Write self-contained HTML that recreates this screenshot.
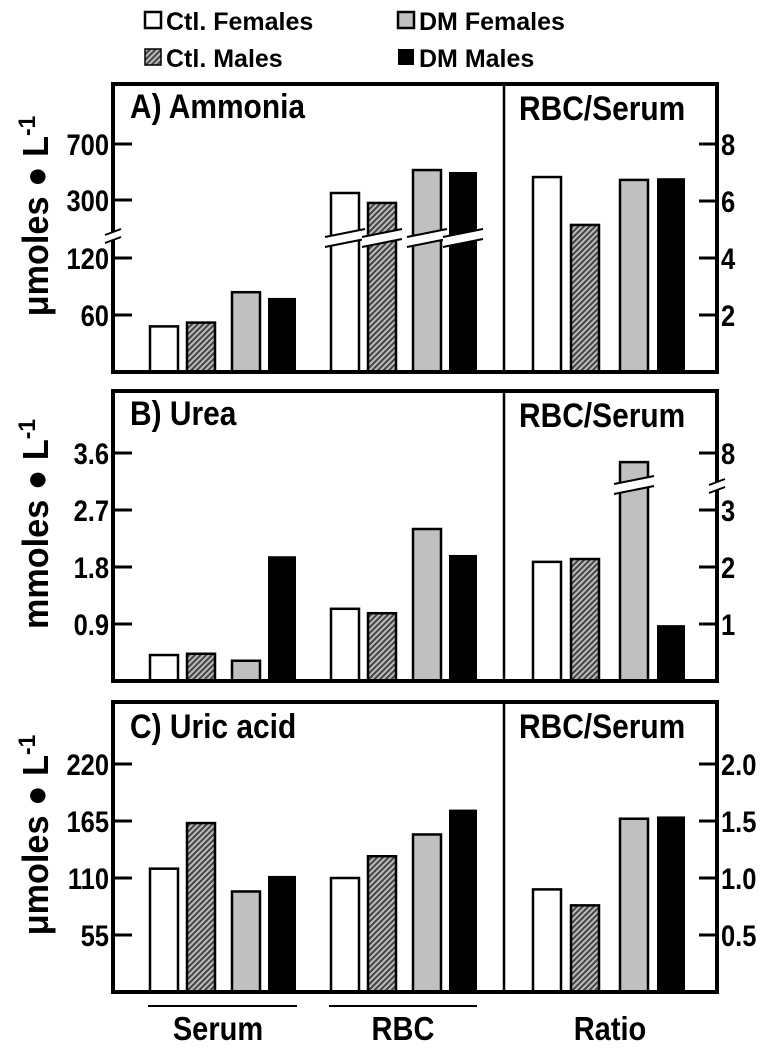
<!DOCTYPE html>
<html><head><meta charset="utf-8"><style>
body{margin:0;background:#fff;}
svg{display:block;font-family:"Liberation Sans",Arial,sans-serif;font-weight:bold;}
</style></head><body>
<svg id="chart" width="767" height="1049" viewBox="0 0 767 1049">
<defs>
<pattern id="hatch" patternUnits="userSpaceOnUse" width="4" height="4" patternTransform="rotate(45)">
<rect width="4" height="4" fill="#bbb"/><rect width="2" height="4" fill="#444"/>
</pattern>
</defs>
<g>
<rect x="145" y="12" width="16" height="16" fill="#fff" stroke="#000" stroke-width="2.5"/>
<text x="166" y="30" font-size="25">Ctl. Females</text>
<rect x="145" y="49" width="16" height="16" fill="url(#hatch)" stroke="#000" stroke-width="1.5"/>
<text x="166" y="67" font-size="25">Ctl. Males</text>
<rect x="398" y="12" width="16" height="16" fill="#c0c0c0" stroke="#000" stroke-width="2.5"/>
<text x="419" y="30" font-size="25">DM Females</text>
<rect x="398" y="49" width="16" height="16" fill="#000"/>
<text x="419" y="67" font-size="25">DM Males</text>
</g>
<g id="panels"></g>
<g>
<line x1="148" y1="1006" x2="297" y2="1006" stroke="#000" stroke-width="2"/>
<line x1="329" y1="1006" x2="477" y2="1006" stroke="#000" stroke-width="2"/>
<text transform="translate(218,1040) scale(0.88,1)" font-size="33" text-anchor="middle">Serum</text>
<text transform="translate(403,1040) scale(0.88,1)" font-size="33" text-anchor="middle">RBC</text>
<text transform="translate(610,1040) scale(0.88,1)" font-size="33" text-anchor="middle">Ratio</text>
</g>
</svg>
<script>
// Groups: ctl females, ctl males, dm females, dm males
const groups = ["Ctl. Females","Ctl. Males","DM Females","DM Males"];
// Panel A ammonia (umol/L)
const ammoniaSerum = [48, 52, 84, 78];
const ammoniaRBC = [350, 279, 514, 500];
const ammoniaRatio = [6.84, 5.16, 6.74, 6.8];
const ammoniaLeftTicks = [60, 120, 300, 700];
const ammoniaRightTicks = [2, 4, 6, 8];
// Panel B urea (mmol/L)
const ureaSerum = [0.41, 0.43, 0.32, 1.97];
const ureaRBC = [1.14, 1.07, 2.4, 1.99];
const ureaRatio = [2.09, 2.14, 7.2, 0.98];
const ureaLeftTicks = [0.9, 1.8, 2.7, 3.6];
const ureaRightTicks = [1, 2, 3, 8];
// Panel C uric acid (umol/L)
const uricSerum = [119, 163, 97, 112];
const uricRBC = [110, 131, 152, 176];
const uricRatio = [0.9, 0.76, 1.52, 1.54];
const uricLeftTicks = [55, 110, 165, 220];
const uricRightTicks = ["0.5","1.0","1.5","2.0"];

const NS="http://www.w3.org/2000/svg";
const root=document.getElementById('panels');
const fills=["#fff","url(#hatch)","#c0c0c0","#000"];
const offs=[0,37,82,118]; const bw=28;
const starts={serum:150, rbc:331, ratio:533};
const ratioOffs=[0,38,87,124];
function mk(tag,attrs,parent){const e=document.createElementNS(NS,tag);for(const k in attrs)e.setAttribute(k,attrs[k]);(parent||root).appendChild(e);return e;}

// axis functions
function linAxis(unit, bottom){return v=>bottom - v/unit*57;}
function ammoniaLeft(v){ if(v<=150) return 372 - v/60*57; return 200 - (v-300)/400*56; }
function ureaRight(v){ if(v<=3.5) return 681 - v*57; return 510 - (v-3)*11.4; }

function panel(cfg){
  const g=mk('g',{});
  
  
  const top=cfg.top,bot=cfg.bot;
  const series=[['serum',cfg.serum,cfg.leftY,starts.serum,offs],['rbc',cfg.rbc,cfg.leftY,starts.rbc,offs],['ratio',cfg.ratio,cfg.rightY,starts.ratio,ratioOffs]];
  series.forEach(([key,vals,fy,x0,of])=>{
    vals.forEach((v,i)=>{
      const y=fy(v);
      const r=mk('rect',{x:x0+of[i],y:y,width:bw,height:bot-y,fill:fills[i],stroke:'#000','stroke-width':i==3?0:2.5},g);
      
      
      if(cfg.breakFor && cfg.breakFor(key,i)){
        const by=cfg.breakY;
        const gap=mk('polygon',{points:`${x0+of[i]-6},${by+4} ${x0+of[i]+bw+6},${by-4} ${x0+of[i]+bw+6},${by+6} ${x0+of[i]-6},${by+14}`,fill:'#fff'},g);
        
        
        mk('line',{x1:x0+of[i]-6,y1:by+4,x2:x0+of[i]+bw+6,y2:by-4,stroke:'#000','stroke-width':2},g);
        mk('line',{x1:x0+of[i]-6,y1:by+14,x2:x0+of[i]+bw+6,y2:by+6,stroke:'#000','stroke-width':2},g);
      }
    });
  });
  const fr=mk('rect',{x:113,y:top,width:604,height:bot-top,fill:'none',stroke:'#000','stroke-width':4},g);
  
  
  mk('line',{x1:504,y1:top,x2:504,y2:bot,stroke:'#000','stroke-width':2.5},g);
  cfg.leftTicks.forEach(t=>{const y=cfg.leftY(t);
    mk('line',{x1:113,y1:y,x2:132,y2:y,stroke:'#000','stroke-width':3},g);
    const tx=mk('text',{transform:`translate(109,${y+11}) scale(0.85,1)`,'font-size':30,'text-anchor':'end'},g);tx.textContent=t;
    
    });
  cfg.rightTicks.forEach(t=>{const y=cfg.rightY(parseFloat(t));
    mk('line',{x1:699,y1:y,x2:717,y2:y,stroke:'#000','stroke-width':3},g);
    const tx=mk('text',{transform:`translate(721,${y+11}) scale(0.85,1)`,'font-size':30},g);tx.textContent=t;
    
    });
  const t1=mk('text',{transform:`translate(130,${top+cfg.titleDy}) scale(0.88,1)`,'font-size':34},g);t1.textContent=cfg.title;
  
  
  const t2=mk('text',{transform:`translate(519,${top+36}) scale(0.88,1)`,'font-size':34},g);t2.textContent='RBC/Serum';
  
  
  const yt=mk('text',{x:0,y:0,'font-size':36,'text-anchor':'middle',transform:`translate(48,${(top+bot)/2-12}) rotate(-90) scale(0.95,1)`},g);
  yt.innerHTML=cfg.ylabel+' \u25CF L<tspan dy="-13" font-size="24">-1</tspan>';
  
  
  if(cfg.axisBreak){const [side,by]=cfg.axisBreak;const x=side=='l'?113:717;
    mk('rect',{x:x-5,y:by-4,width:10,height:8,fill:'#fff'},g);
    mk('line',{x1:x-8,y1:by-1,x2:x+8,y2:by-7,stroke:'#000','stroke-width':2},g);
    mk('line',{x1:x-8,y1:by+7,x2:x+8,y2:by+1,stroke:'#000','stroke-width':2},g);}
}
panel({name:'panel-a-ammonia',short:'a',top:84,bot:372,serum:ammoniaSerum,rbc:ammoniaRBC,ratio:ammoniaRatio,titleDy:34,
  leftY:ammoniaLeft,rightY:linAxis(2,372),leftTicks:ammoniaLeftTicks,rightTicks:ammoniaRightTicks,
  title:'A) Ammonia',ylabel:'\u03BCmoles',breakFor:(k,i)=>k=='rbc',breakY:233,axisBreak:['l',236]});
panel({name:'panel-b-urea',short:'b',top:391,bot:681,serum:ureaSerum,rbc:ureaRBC,ratio:ureaRatio,titleDy:34,
  leftY:linAxis(0.9,681),rightY:ureaRight,leftTicks:ureaLeftTicks,rightTicks:ureaRightTicks,
  title:'B) Urea',ylabel:'mmoles',breakFor:(k,i)=>k=='ratio'&&i==2,breakY:480,axisBreak:['r',486]});
panel({name:'panel-c-uric-acid',short:'c',top:702,bot:992,serum:uricSerum,rbc:uricRBC,ratio:uricRatio,titleDy:36,
  leftY:linAxis(55,992),rightY:linAxis(0.5,992),leftTicks:uricLeftTicks,rightTicks:uricRightTicks,
  title:'C) Uric acid',ylabel:'\u03BCmoles'});
</script>
</body></html>
